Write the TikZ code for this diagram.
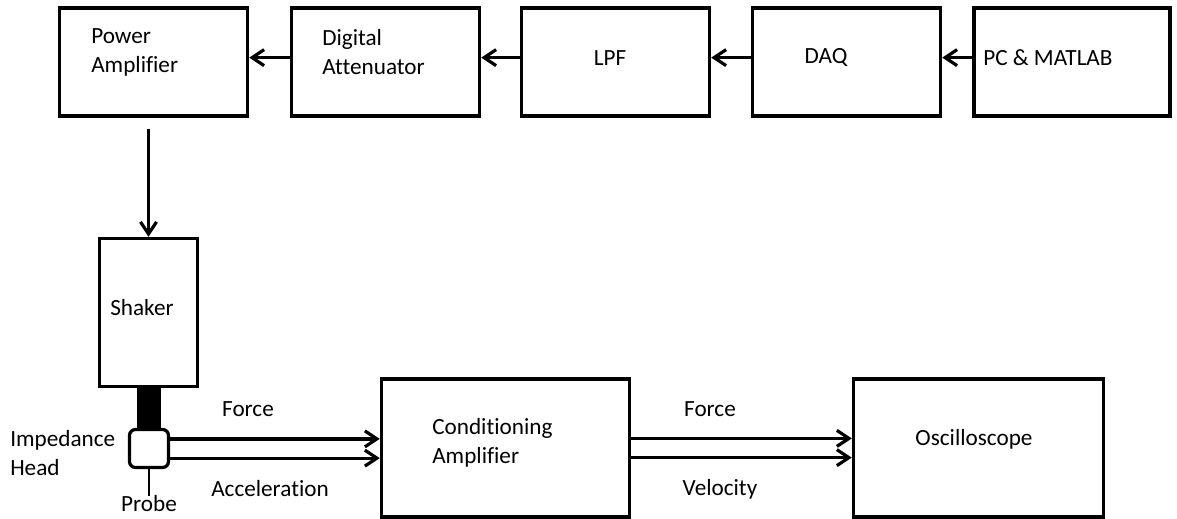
\documentclass[tikz,border=0pt]{standalone}
\usepackage{fontspec}
\setmainfont{Carlito}[Ligatures=NoCommon]
\usetikzlibrary{arrows.meta,positioning,calc}

\begin{document}
\begin{tikzpicture}[x=0.025cm, y=-0.025cm,
    blk/.style={draw, line width=0.085cm, rectangle, inner sep=0pt, minimum width=4.7cm, minimum height=2.7cm},
    txt/.style={inner sep=0pt, align=left, font=\fontsize{16.5}{20.6}\selectfont},
    arr/.style={line width=0.08cm, -{Straight Barb[length=0.3cm, width=0.4cm]}}]

        % Fix the page to the reference size
        \useasboundingbox (0,0) rectangle (1177,519);

        % Top chain of blocks
        \node[blk] (pa) at (153.5,62) {};
        \node[blk] (da) at (385.5,62) {};
        \node[blk] (lpf) at (615.5,62) {};
        \node[blk] (daq) at (846.5,62) {};
        \node[blk, minimum width=4.9cm] (pc) at (1072,62) {};

        \node[txt, anchor=west] (pa-t) at (91,52) {Power\\Amplifier};
        \node[txt, anchor=west] (da-t) at (322,52) {Digital\\Attenuator};
        \node[txt] (lpf-t) at (610,58) {LPF};
        \node[txt] (daq-t) at (826,58) {DAQ};
        \node[txt, anchor=west] (pc-t) at (983,58) {PC \& MATLAB};

        % Signal goes right to left
        \draw[arr] ([yshift=0.11cm]pc.west) -- ([yshift=0.11cm]daq.east);
        \draw[arr] ([yshift=0.11cm]daq.west) -- ([yshift=0.11cm]lpf.east);
        \draw[arr] ([yshift=0.11cm]lpf.west) -- ([yshift=0.11cm]da.east);
        \draw[arr] ([yshift=0.11cm]da.west) -- ([yshift=0.11cm]pa.east);

        % Shaker with stinger and impedance head
        \node[blk, minimum width=2.45cm, minimum height=3.7cm] (shaker) at (148.5,312.5) {};
        \node[txt] (shaker-t) at (142,308) {Shaker};

        \coordinate (pa-out) at ($(shaker.north |- pa.south)+(0,11)$);
        \draw[arr] (pa-out) -- (shaker.north);

        \node[fill=black, inner sep=0pt, minimum width=0.6cm, minimum height=1.0cm] (stem) at (149,408) {};
        \node[draw, fill=white, line width=0.08cm, rounded corners=0.15cm, inner sep=0pt,
              minimum width=0.975cm, minimum height=0.95cm] (head) at (149,448.5) {};

        \node[txt] (probe) at (149,504) {Probe};
        \draw[line width=0.065cm] (head.south) -- (probe.north);
        \node[txt, anchor=west] (head-t) at (10,453) {Impedance\\Head};

        % Conditioning amplifier and oscilloscope
        \node[blk, minimum width=6.2cm, minimum height=3.45cm] (cond) at (505.5,448) {};
        \node[txt, anchor=west] (cond-t) at (432,443) {Conditioning\\Amplifier};
        \node[blk, minimum width=6.25cm, minimum height=3.45cm] (osc) at (978.5,448) {};
        \node[txt] (osc-t) at (974,439) {Oscilloscope};

        % Two outputs of the head
        \coordinate (h-f) at ([yshift=0.24cm]head.east);
        \coordinate (h-a) at ([yshift=-0.24cm]head.east);
        \draw[arr] (h-f) -- (h-f -| cond.west);
        \draw[arr] (h-a) -- (h-a -| cond.west);
        \node[txt] (force-in) at (248,409) {Force};
        \node[txt] (acc-in) at (270,489) {Acceleration};

        % Two outputs of the conditioning amplifier
        \coordinate (c-f) at ([yshift=0.24cm]cond.east);
        \coordinate (c-v) at ([yshift=-0.24cm]cond.east);
        \draw[arr] (c-f) -- (c-f -| osc.west);
        \draw[arr] (c-v) -- (c-v -| osc.west);
        \node[txt] (force-out) at (710,409) {Force};
        \node[txt] (vel-out) at (720,489) {Velocity};
    \end{tikzpicture}
\end{document}
